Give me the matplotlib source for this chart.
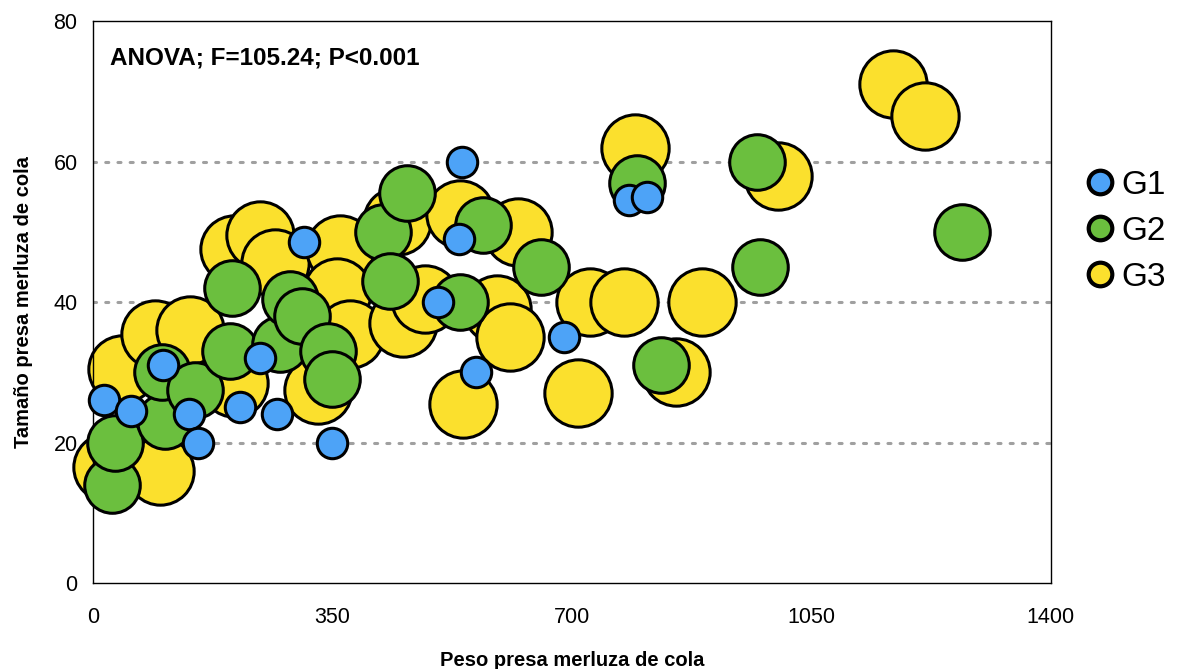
import matplotlib
matplotlib.use("Agg")
import matplotlib.pyplot as plt
from matplotlib.lines import Line2D

plt.rcParams['font.family'] = ['Liberation Sans', 'DejaVu Sans']

# Prey weight (x) and prey size (y) per group
g1_x = [16, 56, 102, 140, 153, 215, 244, 269, 308, 349, 504, 535, 539, 560, 688, 783, 810]
g1_y = [26, 24.5, 31, 24, 20, 25, 32, 24, 48.5, 20, 40, 49, 60, 30, 35, 54.5, 55]

g2_x = [28, 32, 105, 101, 150, 200, 203, 273, 288, 305, 343, 349, 424, 459, 434,
        536, 570, 655, 795, 830, 970, 975, 1270]
g2_y = [14, 20, 23, 30, 27.5, 33, 42, 34, 40.5, 38, 33, 29, 50, 55.5, 43,
        40, 51, 45, 57, 31, 60, 45, 50]

g3_x = [20, 98, 42, 91, 142, 207, 207, 244, 266, 329, 361, 357, 376, 444, 453, 485,
        536, 621, 590, 609, 541, 709, 726, 777, 792, 853, 890, 1002, 1169, 1216]
g3_y = [16.5, 16, 30.5, 35.5, 36, 28.5, 47.5, 49.5, 45.5, 27.5, 47.5, 41.5, 35.5, 51.5, 37, 40.5,
        52.5, 50, 39, 35, 25.5, 27, 40, 40, 62, 30, 40, 58, 71, 66.5]

groups = ["G1", "G2", "G3"]
colors = {"G1": "#4da3f7", "G2": "#6bbf3e", "G3": "#fbe02d"}
sizes = {"G1": 480, "G2": 1600, "G3": 2350}

x_ticks = [0, 350, 700, 1050, 1400]
y_ticks = [0, 20, 40, 60, 80]

fig = plt.figure(figsize=(11.9, 6.69), dpi=100)
ax = fig.add_axes([0.078, 0.1285, 0.805, 0.840])

for yv in [20, 40, 60]:
    ax.axhline(yv, color="#a0a0a0", linewidth=2.2, linestyle=(0, (1, 3)),
               dash_capstyle="round", zorder=1)

ax.scatter(g3_x, g3_y, s=sizes["G3"], c=colors["G3"], edgecolors="black",
           linewidths=2.2, zorder=2, clip_on=False)
ax.scatter(g2_x, g2_y, s=sizes["G2"], c=colors["G2"], edgecolors="black",
           linewidths=2.2, zorder=3, clip_on=False)
ax.scatter(g1_x, g1_y, s=sizes["G1"], c=colors["G1"], edgecolors="black",
           linewidths=2.2, zorder=4, clip_on=False)

ax.set_xlim(0, 1400)
ax.set_ylim(0, 80)
ax.set_xticks(x_ticks)
ax.set_yticks(y_ticks)
ax.tick_params(axis="both", length=0, labelsize=15.5)
ax.tick_params(axis="x", pad=17)
ax.tick_params(axis="y", pad=11)
for sp in ax.spines.values():
    sp.set_linewidth(1.0)
    sp.set_color("black")

ax.set_xlabel("Peso presa merluza de cola", fontsize=14.5, fontweight="bold", labelpad=17)
ax.set_ylabel("Tamaño presa merluza de cola", fontsize=14.5, fontweight="bold", labelpad=15)

ax.text(0.018, 0.955, "ANOVA; F=105.24; P<0.001", transform=ax.transAxes,
        fontsize=17.5, fontweight="bold", va="top", ha="left")

handles = [Line2D([], [], marker="o", linestyle="none", markersize=17,
                  markerfacecolor=colors[g], markeredgecolor="black",
                  markeredgewidth=3) for g in groups]
ax.legend(handles, groups, loc="center left", bbox_to_anchor=(1.034, 0.626),
          frameon=False, fontsize=24, labelspacing=0.45, handletextpad=0.15,
          handlelength=1.0, borderpad=0, borderaxespad=0)

fig.savefig("out.png", dpi=100)
